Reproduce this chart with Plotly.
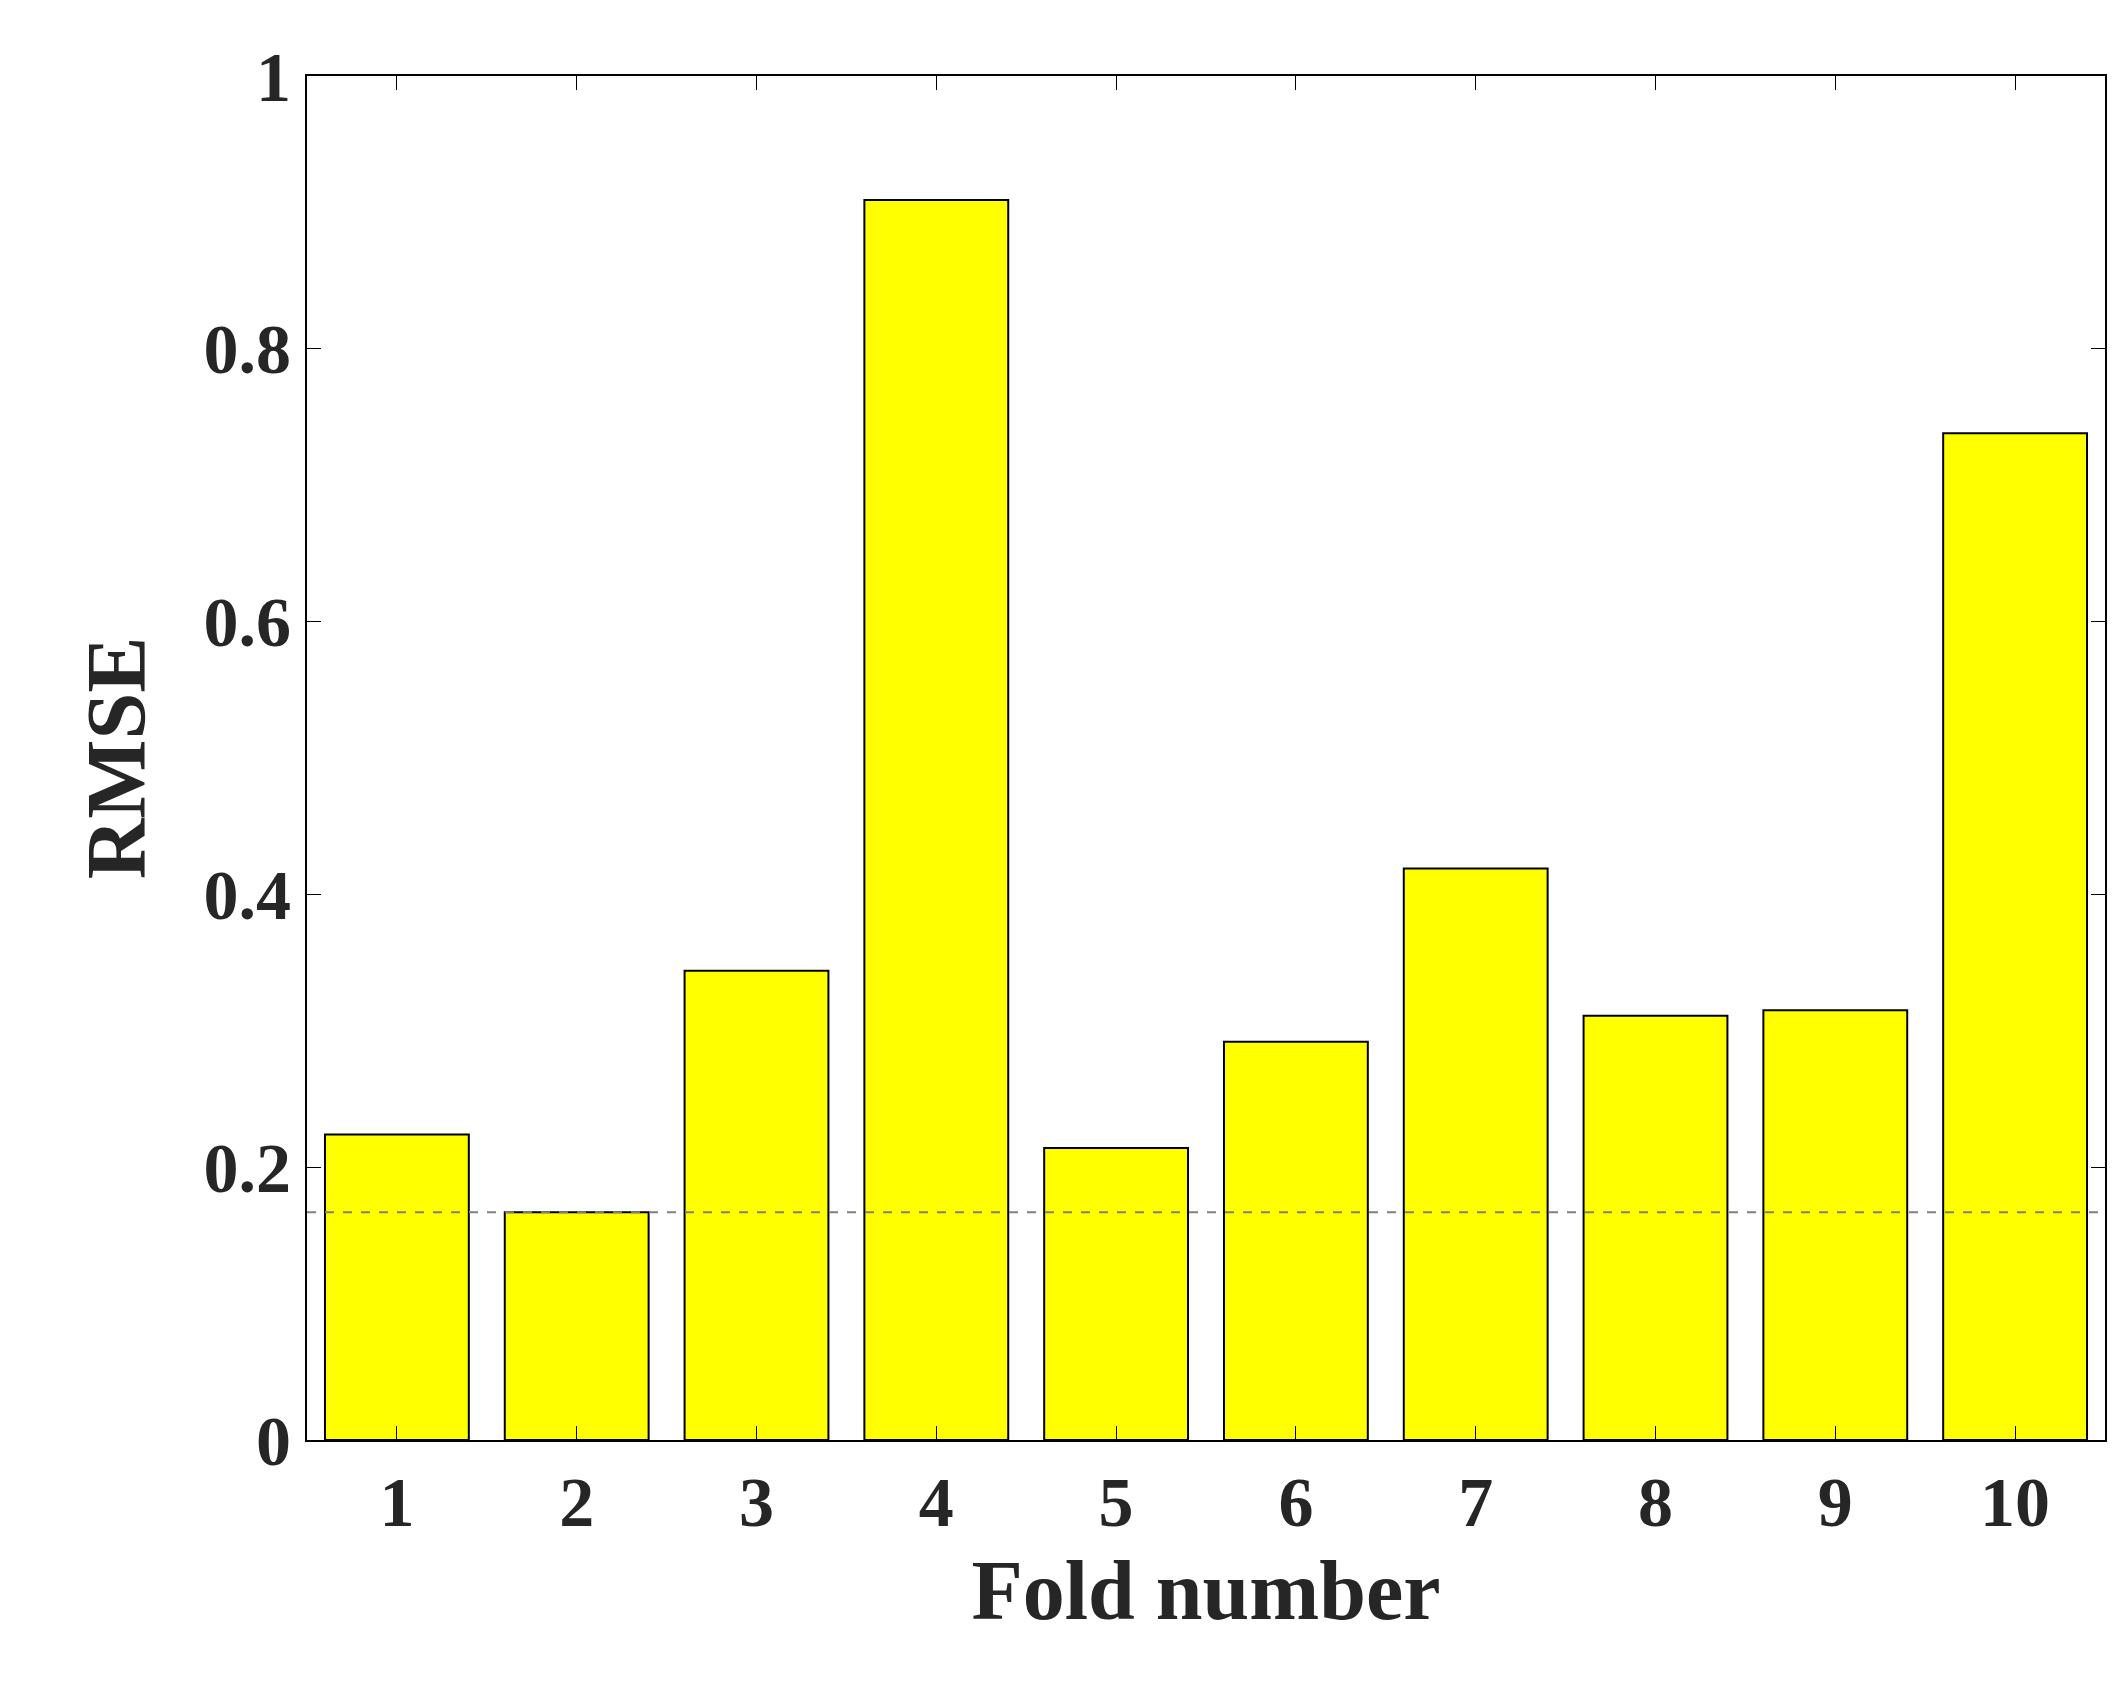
import plotly.graph_objects as go

folds = ["1", "2", "3", "4", "5", "6", "7", "8", "9", "10"]
rmse = [0.224, 0.167, 0.344, 0.909, 0.214, 0.292, 0.419, 0.311, 0.315, 0.738]
baseline = 0.167

fig = go.Figure()
fig.add_trace(go.Bar(x=folds, y=rmse, marker=dict(color="#ffff00", line=dict(color="black", width=2)),
                     width=0.8))
fig.add_hline(y=baseline, line=dict(color="gray", width=2, dash="dash"))

font = dict(family="Liberation Serif", color="#262626")
fig.update_layout(
    width=2128, height=1706, plot_bgcolor="white", paper_bgcolor="white",
    margin=dict(l=299, r=31, t=68, b=274), showlegend=False,
    font=font,
    xaxis=dict(title=dict(text="<b>Fold number</b>", font=dict(size=84), standoff=20),
               tickfont=dict(size=70), tickprefix="<b>", ticksuffix="</b>",
               showline=True, linecolor="black", linewidth=2, mirror="ticks",
               ticks="inside", ticklen=14, tickcolor="black"),
    yaxis=dict(title=dict(text="<b>RMSE</b>", font=dict(size=84), standoff=30),
               range=[0, 1], tickvals=[0, 0.2, 0.4, 0.6, 0.8, 1],
               ticktext=["<b>0</b>", "<b>0.2</b>", "<b>0.4</b>", "<b>0.6</b>", "<b>0.8</b>", "<b>1</b>"],
               tickfont=dict(size=70), showgrid=False, zeroline=False,
               showline=True, linecolor="black", linewidth=2, mirror="ticks",
               ticks="inside", ticklen=14, tickcolor="black"),
)
fig.write_html("out.html")
